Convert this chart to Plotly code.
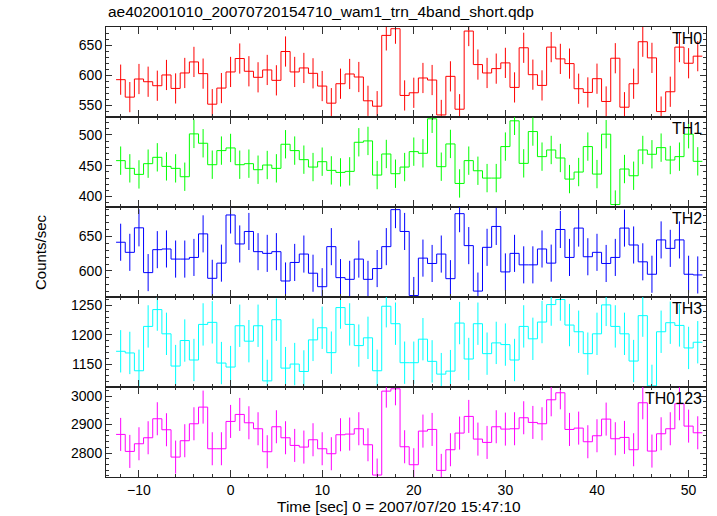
import numpy as np
import plotly.graph_objects as go
from plotly.subplots import make_subplots

time = list(range(-12, 52))

th0 = [592.8, 563.9, 593.9, 589.4, 582.8, 600.6, 578.3, 603.9, 622.2, 602.8,
       552.2, 578.9, 605.6, 627.8, 606.7, 596.7, 608.9, 591.7, 639.4, 605.6,
       612.2, 603.3, 582.2, 553.9, 586.1, 602.2, 597.2, 557.8, 548.9, 666.1,
       677.2, 566.7, 571.1, 595.6, 592.2, 534.4, 598.3, 543.9, 673.3, 617.8,
       603.9, 611.1, 620.6, 580.0, 645.6, 601.1, 583.3, 646.7, 627.2, 619.4,
       577.8, 571.7, 594.4, 556.7, 628.3, 547.2, 586.1, 655.6, 628.9, 540.0,
       572.8, 646.7, 620.0, 631.7]
th1 = [458.2, 445.7, 435.9, 453.3, 463.6, 448.9, 445.7, 432.1, 501.6, 486.4,
       451.6, 474.5, 478.8, 451.6, 453.3, 443.5, 451.1, 445.7, 484.8, 474.5,
       459.8, 447.8, 456.5, 442.4, 439.1, 440.8, 488.0, 490.2, 434.8, 469.0,
       437.0, 447.8, 472.8, 470.1, 526.1, 448.4, 485.3, 421.2, 458.2, 441.8,
       429.9, 429.9, 481.0, 522.8, 453.8, 505.4, 464.7, 475.5, 462.5, 428.3,
       439.7, 481.0, 436.4, 501.1, 387.0, 444.6, 433.7, 475.5, 468.5, 479.3,
       459.2, 464.7, 501.1, 457.1]
th2 = [641.7, 627.0, 662.7, 597.5, 630.9, 631.9, 617.2, 617.2, 619.6, 653.9,
       589.2, 611.3, 681.4, 639.2, 657.4, 628.0, 625.5, 628.0, 585.3, 612.3,
       624.5, 596.6, 577.0, 635.3, 590.2, 587.7, 617.2, 587.7, 603.4, 635.3,
       689.2, 657.4, 564.2, 618.6, 610.8, 624.5, 588.7, 683.3, 636.8, 570.6,
       634.3, 664.7, 598.5, 625.5, 608.8, 608.8, 631.9, 611.3, 660.3, 619.6,
       662.3, 620.6, 627.0, 610.8, 619.6, 662.3, 637.7, 613.2, 595.1, 645.1,
       632.8, 645.1, 595.1, 594.1]
th3 = [1171.7, 1168.9, 1138.6, 1214.0, 1242.6, 1201.4, 1146.6, 1190.0, 1156.9, 1217.4,
       1220.9, 1151.7, 1144.9, 1215.1, 1188.9, 1215.1, 1121.4, 1225.4, 1143.1, 1150.0,
       1137.4, 1191.1, 1211.7, 1169.4, 1246.0, 1217.4, 1181.4, 1194.6, 1138.6, 1248.3,
       1218.6, 1152.3, 1152.3, 1192.3, 1154.6, 1132.9, 1138.0, 1219.7, 1158.6, 1218.6,
       1167.7, 1186.0, 1183.1, 1156.9, 1214.0, 1192.9, 1221.4, 1251.1, 1259.7, 1216.3,
       1204.9, 1167.7, 1201.4, 1250.6, 1214.0, 1201.4, 1155.1, 1232.3, 1112.9, 1204.9,
       1220.3, 1215.7, 1177.4, 1187.1]
th0123 = [2865.5, 2805.8, 2832.7, 2853.8, 2920.5, 2881.9, 2785.9, 2843.3, 2902.9, 2961.4,
          2815.2, 2815.2, 2911.1, 2935.7, 2906.4, 2885.4, 2804.7, 2892.4, 2853.8, 2826.9,
          2821.1, 2846.8, 2815.2, 2797.7, 2864.3, 2866.7, 2885.4, 2829.2, 2722.8, 3017.5,
          3025.7, 2822.2, 2759.1, 2877.2, 2883.0, 2739.2, 2811.7, 2870.2, 2928.7, 2849.1,
          2837.4, 2892.4, 2884.2, 2885.4, 2924.0, 2907.6, 2902.9, 2987.1, 3011.7, 2883.0,
          2887.7, 2839.8, 2860.8, 2919.3, 2850.3, 2855.0, 2811.7, 2976.6, 2807.0, 2867.8,
          2885.4, 2973.1, 2894.7, 2871.3]

errors = [25, 23, 27, 36, 58]
band_names = ["TH0", "TH1", "TH2", "TH3", "TH0123"]
band_rates = [th0, th1, th2, th3, th0123]
band_colors = ["#ff0000", "#00ff00", "#0000ff", "#00ffff", "#ff00ff"]
y_ranges = [[531, 680], [383, 529], [562, 693], [1111, 1264], [2716, 3032]]
y_major = [50, 50, 50, 50, 100]
y_minor = [10, 10, 10, 10, 20]
x_range = [-13.6, 51.9]

title = "ae402001010_20070720154710_wam1_trn_4band_short.qdp"
x_title = "Time [sec] 0 = 2007/07/20 15:47:10"
y_title = "Counts/sec"

fig = make_subplots(rows=5, cols=1, shared_xaxes=True, vertical_spacing=0)

t = np.array(time, dtype=float)
edges = np.append(t - 0.5, t[-1] + 0.5)
FONT = "Liberation Sans, Arial, sans-serif"

for i, (name, rates, col, err) in enumerate(zip(band_names, band_rates, band_colors, errors)):
    r = i + 1
    vals = np.array(rates, dtype=float)
    fig.add_trace(go.Scatter(x=edges, y=np.append(vals, vals[-1]), mode="lines",
                             line=dict(color=col, width=1, shape="hv"),
                             showlegend=False, hoverinfo="skip"), row=r, col=1)
    fig.add_trace(go.Scatter(x=t, y=vals, mode="lines", line=dict(width=0, color=col),
                             error_y=dict(type="constant", value=err, width=0,
                                          thickness=1, color=col),
                             showlegend=False), row=r, col=1)
    fig.update_yaxes(range=y_ranges[i], dtick=y_major[i], tick0=0,
                     minor=dict(dtick=y_minor[i], ticks="inside", ticklen=3,
                                tickcolor="#333333", showgrid=False),
                     row=r, col=1)
    fig.add_annotation(text=name, xref="x domain", yref="y domain" if r == 1 else f"y{r} domain",
                       x=0.997, y=0.985, xanchor="right", yanchor="top", showarrow=False,
                       font=dict(size=16, color="black", family=FONT))

fig.update_yaxes(showline=True, linecolor="#222222", linewidth=1, mirror="ticks",
                 ticks="inside", ticklen=6, tickcolor="#333333", showgrid=False,
                 zeroline=False, tickfont=dict(size=14, color="black", family=FONT))
fig.update_xaxes(range=x_range, showline=True, linecolor="#222222", linewidth=1,
                 mirror="ticks", ticks="inside", ticklen=7, tickcolor="#333333",
                 dtick=10, tick0=0, showgrid=False, zeroline=False,
                 minor=dict(dtick=2, ticks="inside", ticklen=3, tickcolor="#333333", showgrid=False),
                 tickfont=dict(size=14, color="black", family=FONT))
fig.update_xaxes(showticklabels=True, row=5, col=1)

fig.add_annotation(text=title, xref="paper", yref="paper", x=0, y=1.035,
                   xanchor="left", yanchor="middle", showarrow=False,
                   font=dict(size=15.5, color="black", family=FONT))
fig.add_annotation(text=x_title, xref="paper", yref="paper", x=0.488, y=-0.066,
                   xanchor="center", yanchor="middle", showarrow=False,
                   font=dict(size=15.5, color="black", family=FONT))
fig.add_annotation(text=y_title, xref="paper", yref="paper", x=-0.11, y=0.5,
                   xanchor="center", yanchor="middle", textangle=-90, showarrow=False,
                   font=dict(size=15, color="black", family=FONT))

fig.update_layout(width=717, height=516, margin=dict(l=106, r=11, t=27, b=39),
                  plot_bgcolor="white", paper_bgcolor="white")

fig.write_html("out.html", config={"displayModeBar": False},
               post_script="document.body.style.margin='0';")
